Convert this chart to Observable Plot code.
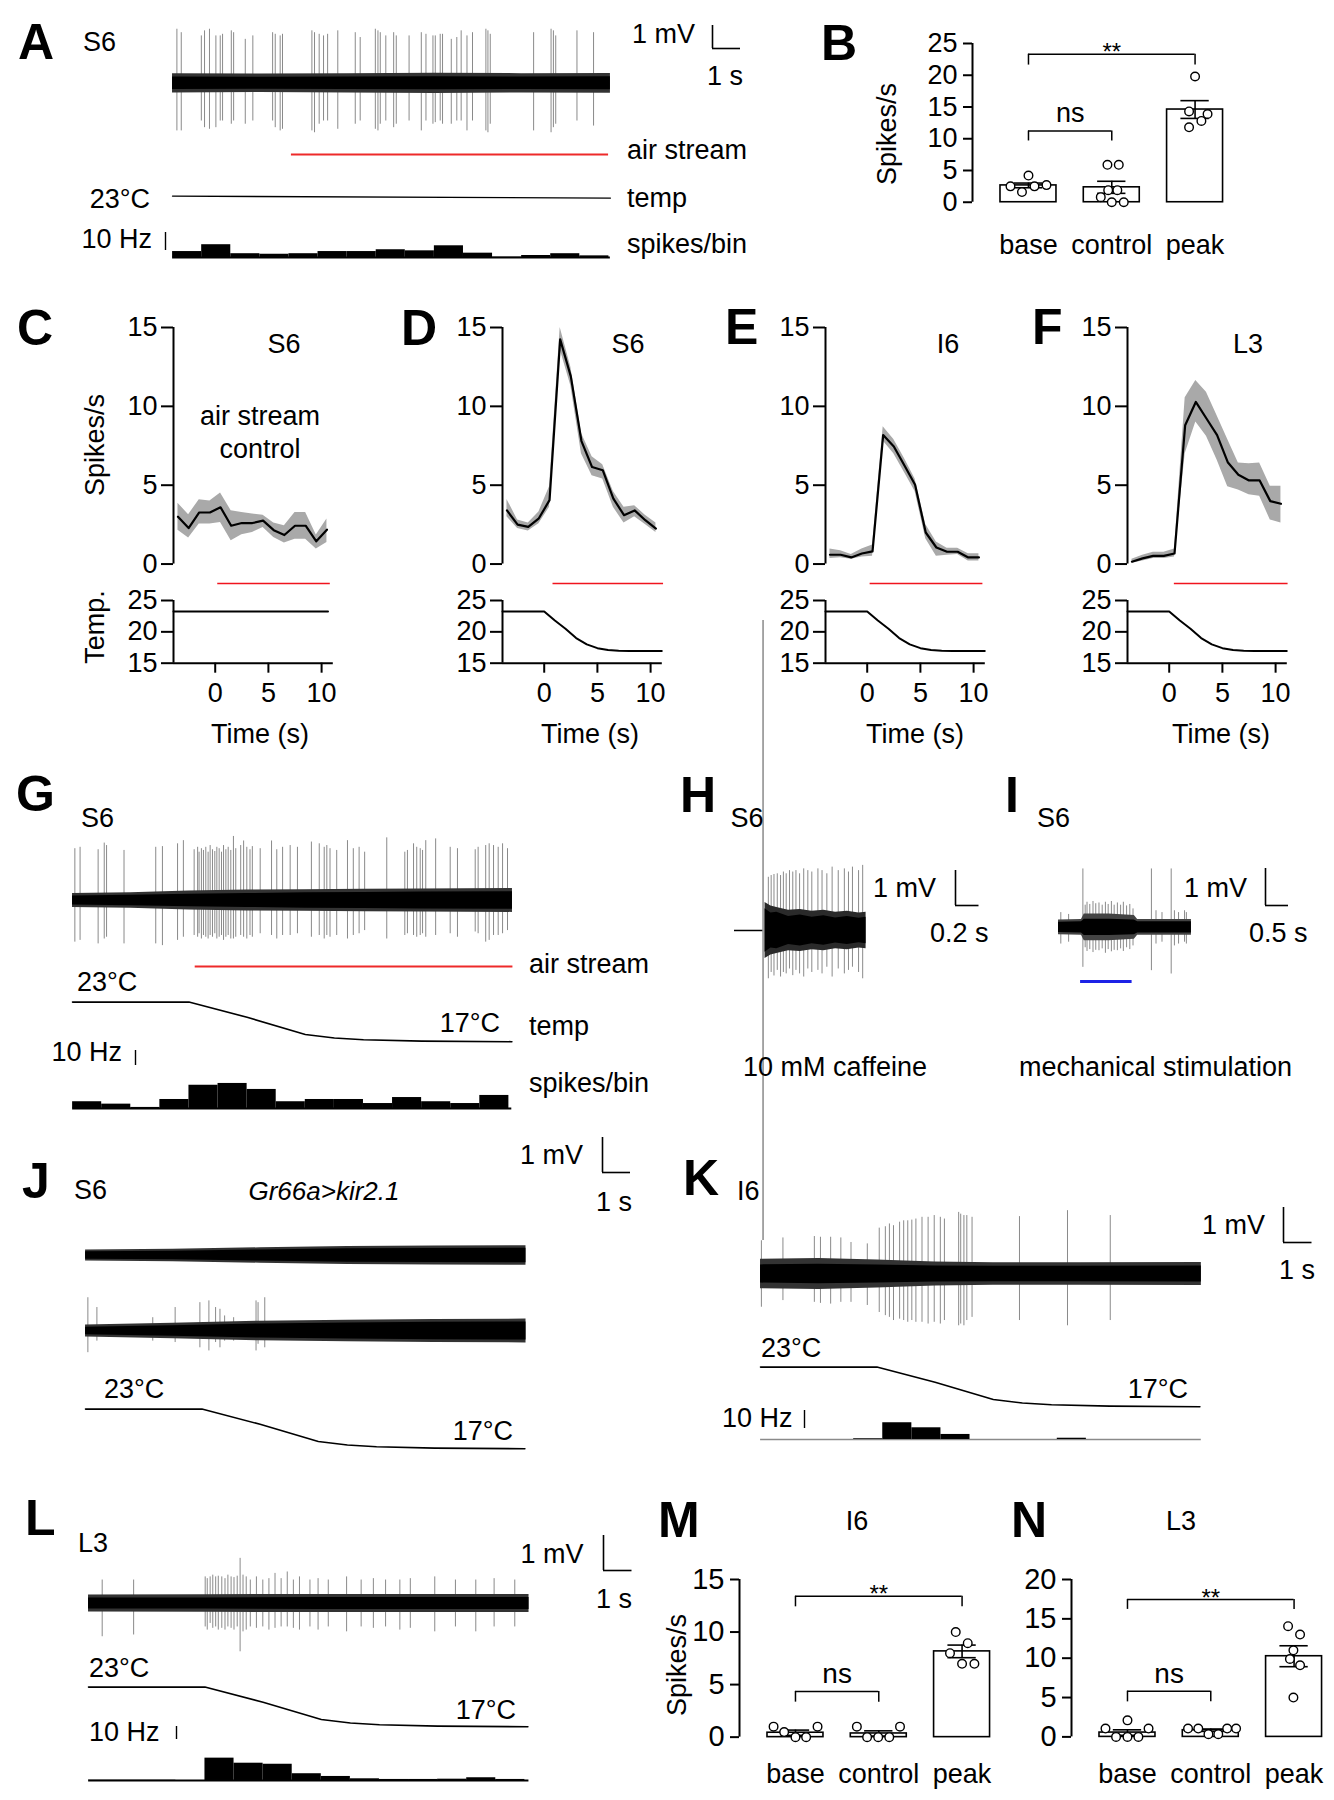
<!DOCTYPE html>
<html><head><meta charset="utf-8">
<script src="https://cdn.jsdelivr.net/npm/d3@7"></script>
<script src="https://cdn.jsdelivr.net/npm/@observablehq/plot@0.6"></script>
<style>
body{margin:0;background:#fff}
#fig{position:relative;width:1334px;height:1800px;overflow:hidden;background:#fff;font-family:"Liberation Sans",Arial,Helvetica,sans-serif;color:#000}
#fig svg{position:absolute}
.t{position:absolute;white-space:nowrap;line-height:1;font-size:27px}
</style></head><body><div id="fig"></div>
<script>
// ---------------- DATA ----------------
// Panel A (S6, air stream on constant temperature) : spikes [time s, top mV, bottom mV]
const A_SPIKES = [[0.15,2.35,-2.07],[0.30,2.2,-2.07],[0.99,2.06,-1.64],[1.10,2.28,-1.93],[1.27,2.35,-2.0],[1.49,2.06,-1.93],[1.64,2.06,-1.64],[1.72,2.13,-1.64],[2.02,2.28,-1.78],[2.10,2.2,-1.64],[2.50,1.91,-1.78],[2.76,2.06,-1.64],[3.44,2.2,-1.64],[3.53,2.13,-1.93],[3.70,2.06,-2.07],[3.78,2.13,-2.0],[4.79,2.28,-2.07],[4.88,2.2,-2.15],[5.04,2.13,-1.78],[5.19,2.06,-1.64],[5.33,2.13,-1.64],[5.68,2.28,-2.0],[6.28,2.2,-1.78],[6.45,1.99,-1.64],[6.97,2.35,-2.0],[7.06,2.28,-2.07],[7.14,2.2,-1.78],[7.33,2.06,-1.64],[7.60,2.2,-1.93],[7.69,2.06,-1.78],[8.13,2.06,-1.64],[8.55,2.2,-2.07],[8.71,2.13,-1.64],[8.95,2.06,-1.78],[9.03,2.06,-1.71],[9.20,2.13,-1.64],[9.28,2.13,-1.78],[9.58,1.91,-1.78],[9.77,1.99,-1.64],[9.92,2.28,-1.64],[10.12,2.06,-2.07],[10.31,2.2,-1.64],[10.77,2.35,-2.07],[10.84,2.28,-2.15],[10.92,2.13,-1.78],[12.41,2.2,-2.07],[13.01,2.35,-2.15],[13.09,2.28,-1.93],[13.17,2.06,-1.78],[13.90,2.28,-1.64],[14.47,2.2,-1.86]];
// noise envelope [time s, core half-width mV, outer half-width mV]
const A_NOISE = [[0,0.27,0.42],[3,0.26,0.4],[6,0.27,0.42],[9,0.28,0.44],[12,0.27,0.42],[15.05,0.28,0.43]];
const A_AIR = [4.08, 15.0];
const A_TEMP = [[0,23],[15.05,22.7]];
const A_HIST = [3.3,7.1,2.1,1.8,2.1,3.3,3.3,4.3,3.7,6.5,2.4,0.2,1.1,2.1,0.9]; // Hz per 1-s bin

// Panel B (S6 spikes/s)
const CATS = ["base","control","peak"];
const B_MEAN = [2.65, 2.35, 14.6];
const B_SEM = [0.37, 0.95, 1.4];
const B_PTS = [[0,-0.216,2.5],[0,0,4.2],[0,-0.078,1.6],[0,0.072,2.5],[0,0.216,2.7],
  [1,-0.052,5.9],[1,0.084,5.9],[1,-0.132,0.8],[1,-0.043,1.9],[1,0.067,1.9],[1,0,0],[1,0.144,0],
  [2,0,19.8],[2,-0.072,14.3],[2,0.15,13.9],[2,0.076,12.8],[2,-0.072,11.8]];
const B_BRK = [{x1:0,x2:2,y:23.3,drop:21.6,label:"**",ly:23.6,fs:24},{x1:0,x2:1,y:11.2,drop:9.65,label:"ns",ly:14.0,fs:27}];

// Panels C-F : mean spikes/s with SEM band, 1-s bins
const T_BINS = [-3.5,-2.5,-1.5,-0.5,0.5,1.5,2.5,3.5,4.5,5.5,6.5,7.5,8.5,9.5,10.5];
const C_MEAN = [3.0,2.28,3.27,3.27,3.6,2.43,2.6,2.6,2.75,2.15,1.84,2.43,2.43,1.44,2.18];
const C_LO   = [2.15,1.65,2.54,2.54,2.64,1.48,1.86,2.0,2.32,1.69,1.33,1.58,1.58,0.95,1.37];
const C_HI   = [3.85,3.13,4.08,4.0,4.5,3.38,3.27,3.17,3.1,2.6,2.43,3.27,3.27,1.84,2.85];
const D_MEAN = [3.4,2.5,2.36,2.9,4.05,14.25,11.9,7.8,6.15,5.95,4.15,3.1,3.4,2.78,2.25];
const D_LO   = [3.0,2.25,2.1,2.55,3.6,13.6,11.3,7.0,5.6,5.4,3.6,2.6,3.0,2.5,2.0];
const D_HI   = [4.1,2.8,2.6,3.3,4.9,15.0,12.5,8.3,6.8,6.3,4.6,3.6,3.7,3.1,2.6];
const E_MEAN = [0.59,0.59,0.42,0.67,0.8,8.18,7.45,6.25,5.03,2.0,1.05,0.78,0.78,0.42,0.42];
const E_LO   = [0.35,0.4,0.3,0.45,0.5,7.8,7.0,5.8,4.6,1.6,0.5,0.55,0.6,0.2,0.2];
const E_HI   = [0.95,0.85,0.6,0.95,1.2,8.7,7.9,6.7,5.4,2.5,1.4,1.0,1.0,0.65,0.65];
const F_MEAN = [0.15,0.36,0.52,0.52,0.67,8.8,10.28,9.23,8.18,6.46,5.66,5.3,5.3,3.99,3.82];
const F_LO   = [0.05,0.2,0.35,0.35,0.45,7.0,9.0,8.1,6.6,4.9,4.7,4.4,4.3,2.8,2.6];
const F_HI   = [0.3,0.55,0.75,0.75,0.95,10.55,11.64,10.9,9.4,7.9,6.4,6.36,6.4,4.93,4.93];
const C_TEMP = [[-3.92,23.25],[10.6,23.25]];
const CF_TEMP = [[-3.92,23.25],[0,23.25],[1,21.8],[2,20.5],[3,19.0],[4,18.0],[5,17.4],[6,17.1],[7,17.0],[8,16.95],[11.05,16.95]];
const CF_AIR = {C:[0.2,10.8], D:[0.79,11.2], E:[0.33,10.95], F:[0.54,11.25]};

// Temperature ramp used in G, J, K, L (deg C)
const RAMP = [[0,23],[4,23],[6,20.7],[8,18.1],[9,17.55],[10,17.3],[12,17.08],[15.1,17]];

// Panel G (S6, cooling air stream)
const G_SPIKES = [[0.08,1.48,-1.19],[0.26,1.52,-1.14],[0.88,1.45,-1.24],[1.09,1.64,-1.1],[1.17,1.57,-1.05],[1.77,1.43,-1.24],[2.86,1.52,-1.24],[3.09,1.54,-1.29],[3.61,1.62,-1.14],[3.81,1.71,-1.05],
 [4.18,1.45,-1.0],[4.30,1.52,-1.05],[4.35,1.38,-0.95],[4.43,1.48,-1.1],[4.50,1.43,-1.0],[4.58,1.52,-1.05],[4.66,1.38,-1.1],[4.73,1.57,-1.0],[4.81,1.45,-1.05],[4.89,1.4,-0.95],[4.96,1.52,-1.1],[5.04,1.48,-1.05],[5.12,1.38,-1.0],[5.19,1.57,-1.14],[5.27,1.45,-1.05],[5.35,1.52,-1.0],[5.44,1.43,-1.1],[5.53,1.83,-1.1],[5.61,1.48,-1.05],[5.78,1.57,-1.0],[5.88,1.70,-1.05],[5.99,1.52,-1.1],[6.10,1.45,-1.0],[6.18,1.54,-1.05],
 [6.45,1.48,-0.95],[6.84,1.70,-1.0],[7.02,1.45,-1.1],[7.22,1.52,-1.0],[7.48,1.57,-1.0],[7.73,1.52,-0.95],[8.21,1.67,-1.05],[8.48,1.62,-1.0],[8.65,1.52,-1.1],[8.74,1.57,-1.0],[8.85,1.48,-1.05],[9.08,1.43,-1.0],[9.45,1.71,-1.1],[9.65,1.48,-1.0],[9.85,1.52,-0.95],[10.04,1.38,-0.86],[10.80,1.79,-1.1],[11.42,1.38,-1.0],[11.51,1.43,-0.95],[11.72,1.62,-1.0],[11.83,1.52,-1.05],[11.95,1.48,-1.0],[12.03,1.43,-0.95],[12.14,1.71,-1.05],[12.48,1.76,-1.0],[12.98,1.52,-0.95],[13.23,1.48,-1.05],[13.84,1.45,-0.9],[13.94,1.52,-0.95],[14.20,1.57,-1.19],[14.32,1.62,-1.14],[14.47,1.57,-1.0],[14.63,1.52,-1.0],[14.78,1.62,-0.95],[14.95,1.48,-0.86]];
const G_NOISE = [[0,0.13,0.2],[2,0.15,0.22],[4,0.18,0.27],[6,0.2,0.3],[8,0.22,0.31],[10,0.23,0.32],[12,0.24,0.33],[15.12,0.25,0.34]];
const G_AIR = [4.21, 15.15];
const G_HIST = [4.5,2.9,0.7,6.0,15.5,16.7,12.7,4.5,6.0,6.0,3.3,7.3,4.5,3.3,8.7];

// Panel H (S6, 10 mM caffeine)
const H_SPIKES = [[0.028,1.52,-1.38],[0.052,1.57,-1.2],[0.076,1.6,-1.3],[0.104,1.62,-1.14],[0.132,1.57,-1.33],[0.156,1.67,-1.2],[0.180,1.62,-1.24],[0.208,1.71,-1.1],[0.236,1.67,-1.29],[0.263,1.71,-1.14],[0.294,1.62,-1.24],[0.329,1.76,-1.33],[0.364,1.71,-1.1],[0.398,1.67,-1.2],[0.450,1.76,-1.14],[0.485,1.71,-1.24],[0.526,1.62,-1.05],[0.571,1.81,-1.33],[0.623,1.71,-1.1],[0.675,1.76,-1.24],[0.710,1.67,-1.14],[0.744,1.81,-1.05],[0.796,1.71,-1.2],[0.831,1.86,-1.38]];
const H_ARTIFACT = [[-0.017,8.86,-8.86]];
const H_LEAD = [-0.26,-0.017];
const H_NOISE = [[0,0.62,0.8],[0.05,0.5,0.7],[0.1,0.52,0.66],[0.2,0.4,0.58],[0.3,0.44,0.6],[0.4,0.38,0.55],[0.5,0.42,0.58],[0.6,0.36,0.52],[0.7,0.4,0.55],[0.8,0.35,0.5],[0.86,0.38,0.52]];

// Panel I (S6, mechanical stimulation)
const I_SPIKES = [[0.53,1.58,-1.08],[2.02,1.58,-1.17],[2.45,1.58,-1.26],
 [0.05,0.4,-0.45],[0.22,0.35,-0.4],[2.12,0.45,-0.45],[2.25,0.4,-0.4],[2.52,0.45,-0.5],[2.61,0.4,-0.45],[2.74,0.45,-0.4],[2.78,0.4,-0.45],
 [0.58,0.6,-0.55],[0.62,0.68,-0.65],[0.68,0.62,-0.6],[0.75,0.7,-0.68],[0.81,0.64,-0.62],[0.88,0.66,-0.63],[0.95,0.6,-0.58],[1.02,0.68,-0.7],[1.08,0.62,-0.6],[1.15,0.7,-0.66],[1.21,0.6,-0.62],[1.28,0.66,-0.63],[1.35,0.6,-0.58],[1.41,0.68,-0.65],[1.48,0.58,-0.55],[1.55,0.62,-0.6],[1.62,0.5,-0.5]];
const I_NOISE = [[0,0.14,0.2],[0.5,0.15,0.21],[0.56,0.22,0.36],[1.1,0.22,0.36],[1.65,0.2,0.32],[1.72,0.15,0.21],[2.89,0.15,0.21]];
const I_STIM = [0.48, 1.6];

// Panel J (S6, Gr66a>kir2.1)
const J1_NOISE = [[0,0.11,0.16],[3,0.12,0.18],[6,0.16,0.22],[9,0.19,0.26],[12,0.2,0.27],[15.14,0.21,0.28]];
const J2_SPIKES = [[0.08,0.95,-0.62],[0.39,0.67,-0.29],[2.31,0.38,-0.29],[3.08,0.67,-0.33],[3.93,0.81,-0.48],[4.24,0.86,-0.57],[4.47,0.67,-0.33],[4.62,0.62,-0.48],[4.78,0.43,-0.29],[5.09,0.38,-0.29],[5.86,0.86,-0.57],[5.93,0.81,-0.38],[6.16,0.95,-0.48]];
const J2_NOISE = [[0,0.11,0.17],[3,0.15,0.22],[6,0.2,0.28],[9,0.23,0.31],[12,0.25,0.33],[15.14,0.26,0.34]];

// Panel K (I6)
const K_SPIKES = [[0.03,0.95,-0.95],[0.77,1.03,-0.76],[1.85,1.07,-0.81],[2.06,1.05,-0.84],[2.41,1.05,-0.86],[2.76,1.03,-0.81],[3.11,0.9,-0.81],[3.67,0.86,-0.9],[4.08,1.31,-1.1],[4.29,1.35,-1.19],[4.43,1.43,-1.24],[4.57,1.38,-1.33],[4.78,1.48,-1.29],[4.92,1.52,-1.33],[5.06,1.52,-1.38],[5.20,1.54,-1.33],[5.34,1.57,-1.38],[5.55,1.62,-1.38],[5.76,1.62,-1.43],[5.97,1.67,-1.38],[6.18,1.62,-1.43],[6.32,1.57,-1.33],[6.81,1.76,-1.48],[6.88,1.71,-1.43],[6.99,1.67,-1.48],[7.09,1.67,-1.33],[7.27,1.62,-1.24],[8.90,1.64,-1.33],[10.55,1.81,-1.48],[12.02,1.67,-1.33]];
const K_NOISE = [[0,0.26,0.42],[2,0.28,0.44],[4,0.26,0.4],[6,0.23,0.34],[8,0.22,0.32],[11,0.22,0.32],[15.15,0.23,0.33]];
const K_HIST_START = 3.2;
const K_HIST = [0.4,9.3,6.5,2.8,0,0,0,0.7];

// Panel L (L3)
const L_SPIKES = [[0.47,0.67,-0.95],[1.55,0.67,-0.9],[4.01,0.76,-0.67],[4.08,0.71,-0.76],[4.18,0.76,-0.57],[4.27,0.81,-0.71],[4.37,0.76,-0.67],[4.46,0.78,-0.76],[4.58,0.76,-0.71],[4.69,0.71,-0.76],[4.79,0.81,-0.67],[4.90,0.76,-0.71],[5.0,0.74,-0.76],[5.11,0.78,-0.67],[5.21,1.29,-1.38],[5.31,0.81,-0.81],[5.42,0.76,-0.76],[5.56,0.67,-0.67],[5.77,0.76,-0.71],[5.99,0.67,-0.67],[6.20,0.71,-0.76],[6.41,0.86,-0.71],[6.62,0.71,-0.67],[6.83,0.9,-0.67],[7.04,0.67,-0.71],[7.25,0.76,-0.76],[7.61,0.67,-0.67],[7.89,0.71,-0.76],[8.24,0.67,-0.67],[8.87,0.76,-0.81],[9.37,0.67,-0.67],[9.79,0.71,-0.71],[10.21,0.67,-0.67],[10.70,0.67,-0.76],[11.06,0.71,-0.71],[11.90,0.76,-0.81],[12.61,0.67,-0.67],[13.31,0.67,-0.81],[13.94,0.71,-0.67],[14.65,0.67,-0.67]];
const L_NOISE = [[0,0.16,0.24],[4,0.16,0.25],[8,0.17,0.26],[12,0.17,0.26],[15.14,0.17,0.26]];
const L_HIST = [0.2,0.2,0.2,0,17.2,13.3,12.5,5.2,3.1,1.3,0.8,0.8,1.0,2.1,0.8];

// Panels M (I6) and N (L3)
const M_MEAN = [0.42, 0.35, 8.16];
const M_SEM = [0.25, 0.25, 0.6];
const M_PTS = [[0,-0.263,1.0],[0,-0.136,0.48],[0,0,0],[0,0.128,0],[0,0.265,1.0],
  [1,-0.263,1.0],[1,-0.14,0],[1,-0.007,0],[1,0.126,0],[1,0.255,1.0],
  [2,-0.076,10.0],[2,0.068,8.94],[2,-0.145,7.99],[2,0,6.98],[2,0.148,6.98]];
const M_BRK = [{x1:0,x2:2,y:13.4,drop:12.4,label:"**",ly:13.55,fs:24},{x1:0,x2:1,y:4.35,drop:3.33,label:"ns",ly:6.0,fs:28}];
const N_MEAN = [0.55, 0.85, 10.25];
const N_SEM = [0.35, 0.15, 1.33];
const N_PTS = [[0,-0.264,1.06],[0,0,2.1],[0,0.253,1.06],[0,-0.137,0],[0,0,0],[0,0.131,0],
  [1,-0.273,1.06],[1,-0.15,1.06],[1,-0.028,0.34],[1,0.09,0.34],[1,0.197,1.06],[1,0.304,1.06],
  [2,-0.072,14.07],[2,0.072,13.0],[2,-0.008,11.0],[2,-0.05,9.9],[2,0.072,9.1],[2,-0.008,5.0]];
const N_BRK = [{x1:0,x2:2,y:17.46,drop:16.2,label:"**",ly:17.66,fs:24},{x1:0,x2:1,y:5.8,drop:4.45,label:"ns",ly:8.05,fs:28}];

// ---------------- LAYOUT HELPERS ----------------
const FONT = "'Liberation Sans', Arial, Helvetica, sans-serif";
const ST = (fs) => `background:transparent;overflow:visible;font-family:${FONT};font-size:${fs}px;`;
const fig = document.getElementById("fig");
const RED = "#ee2a2a", BLUE = "#1c22e6";

function place(svg, left, top) {
  svg.style.position = "absolute";
  svg.style.left = left + "px";
  svg.style.top = top + "px";
  fig.appendChild(svg);
  return svg;
}
function txt(str, x, y, o = {}) {
  const d = document.createElement("div");
  d.className = "t";
  d.textContent = str;
  d.style.fontSize = (o.size || 27) + "px";
  if (o.bold) d.style.fontWeight = "bold";
  if (o.italic) d.style.fontStyle = "italic";
  d.style.left = x + "px";
  d.style.top = y + "px";
  const ax = o.anchor === "middle" ? -50 : o.anchor === "end" ? -100 : 0;
  d.style.transform = o.rotate ? `translate(-50%,-50%) rotate(${o.rotate}deg)` : `translate(${ax}%,-50%)`;
  fig.appendChild(d);
}
const letter = (s, x, y) => txt(s, x, y, {size: 50, bold: true});

// generic positioned plot: x = page x of time 0, y = page y of value vy (default 0)
function lay(marks, o) {
  const vy = o.vy ?? 0;
  const W = (o.t1 - o.t0) * o.pps, H = (o.v1 - o.v0) * o.ppv;
  const svg = Plot.plot({width: W, height: H, margin: 0, style: ST(27),
    x: {domain: [o.t0, o.t1], axis: null}, y: {domain: [o.v0, o.v1], axis: null}, marks});
  return place(svg, o.x + o.t0 * o.pps, o.y - (o.v1 - vy) * o.ppv);
}
function trace(o, spikes, noise, extra = [], fuzz = "#333") {
  return lay([
    Plot.ruleX(spikes, {x: d => d[0], y1: d => d[2], y2: d => d[1], stroke: "#8a8a8a", strokeWidth: 1}),
    Plot.areaY(noise, {x: d => d[0], y1: d => -d[2], y2: d => d[2], fill: fuzz}),
    Plot.areaY(noise, {x: d => d[0], y1: d => -d[1], y2: d => d[1], fill: "#000"}),
    ...extra], o);
}
function stim(x, y, pps, t1, seg, color, w) {
  return lay([Plot.ruleY([seg], {x1: d => d[0], x2: d => d[1], y: 0, stroke: color, strokeWidth: w})],
    {x, y, pps, t0: 0, t1, v0: -1, v1: 1, ppv: 4});
}
function tempRow(x, y23, pps, t0, t1, data, w = 1.6) {
  return lay([Plot.line(data, {x: d => d[0], y: d => d[1], stroke: "#000", strokeWidth: w})],
    {x, y: y23, vy: 23, pps, t0, t1, v0: 16, v1: 24, ppv: 6.6});
}
function hist(x, yBase, pps, t1, pph, bins, baseColor, baseW) {
  return lay([
    Plot.ruleY([0], {x1: 0, x2: t1, stroke: baseColor, strokeWidth: baseW}),
    Plot.rect(bins, {x1: d => d[0], x2: d => d[1], y1: 0, y2: d => d[2], fill: "#000"})
  ], {x, y: yBase, pps, t0: 0, t1, v0: 0, v1: 20, ppv: pph});
}
function scalebar(x, yb, pps, sec, ppv, mv) {
  return lay([Plot.ruleX([0], {y1: 0, y2: mv, stroke: "#000", strokeWidth: 1.6}),
              Plot.ruleY([0], {x1: 0, x2: sec, stroke: "#000", strokeWidth: 1.6})],
    {x, y: yb, pps, t0: 0, t1: sec, ppv, v0: 0, v1: mv});
}
function hzbar(x, yb, pph) {
  return lay([Plot.ruleX([0], {y1: 0, y2: 10, stroke: "#000", strokeWidth: 1.4})],
    {x, y: yb, pps: 2, t0: 0, t1: 1, ppv: pph, v0: 0, v1: 10});
}

// rate panels C-F
const TD = [-3.92, 11.1], PPS_CF = 10.64, RATE_PPU = 15.77, TEMP_PPU = 6.27;
const RATE_TOP = 326.7, TEMP_TOP = 600;
function ratePanel(ax, mean, lo, hi, temp, air) {
  const rows = T_BINS.map((t, i) => ({t, m: mean[i], lo: lo[i], hi: hi[i]}));
  const ml = 80, mr = 12, W = (TD[1] - TD[0]) * PPS_CF;
  const up = Plot.plot({width: ml + W + mr, height: 20 + 15 * RATE_PPU + 10,
    marginLeft: ml, marginRight: mr, marginTop: 20, marginBottom: 10, style: ST(27),
    x: {domain: TD, axis: null}, y: {domain: [0, 15]},
    marks: [
      Plot.axisY([0, 5, 10, 15], {tickSize: 12, tickPadding: 4, strokeWidth: 2, label: null}),
      Plot.ruleX([TD[0]], {y1: 0, y2: 15, stroke: "#000", strokeWidth: 2}),
      Plot.areaY(rows, {x: "t", y1: "lo", y2: "hi", fill: "#a9a9a9"}),
      Plot.lineY(rows, {x: "t", y: "m", stroke: "#000", strokeWidth: 2.2})
    ]});
  place(up, ax - ml, RATE_TOP - 20);
  const low = Plot.plot({width: ml + W + mr, height: 10 + 10 * TEMP_PPU + 60,
    marginLeft: ml, marginRight: mr, marginTop: 10, marginBottom: 60, style: ST(27),
    x: {domain: TD}, y: {domain: [15, 25]},
    marks: [
      Plot.axisY([15, 20, 25], {tickSize: 12, tickPadding: 4, strokeWidth: 2, label: null}),
      Plot.axisX([0, 5, 10], {tickSize: 10, tickPadding: 10, strokeWidth: 2, label: null}),
      Plot.ruleX([TD[0]], {y1: 15, y2: 25, stroke: "#000", strokeWidth: 2}),
      Plot.ruleY([15], {x1: TD[0], x2: TD[1], stroke: "#000", strokeWidth: 2}),
      Plot.line(temp, {x: d => d[0], y: d => d[1], stroke: "#000", strokeWidth: 2})
    ]});
  place(low, ax - ml, TEMP_TOP - 10);
  const x0 = ax - TD[0] * PPS_CF;
  stim(x0, 583.3, PPS_CF, 11.5, air, "#f0141e", 1.6);
}

// bar panels B, M, N
const XD = [-0.672, 2.65], STEP = 83.3;
function barPanel(ax, y0, ppu, ymax, ticks, mean, sem, pts, brk, pad, tfs) {
  const ml = 80, mr = 10, mt = 40, mb = 70;
  const W = (XD[1] - XD[0]) * STEP, H = ymax * ppu;
  const bars = mean.map((m, i) => ({i, m, s: sem[i]}));
  const svg = Plot.plot({width: ml + W + mr, height: mt + H + mb,
    marginLeft: ml, marginRight: mr, marginTop: mt, marginBottom: mb, style: ST(27),
    x: {domain: XD}, y: {domain: [0, ymax]},
    marks: [
      Plot.axisY(ticks, {tickSize: 9, tickPadding: 6, strokeWidth: 2, label: null, fontSize: tfs}),
      Plot.axisX([0, 1, 2], {tickFormat: i => CATS[i], tickSize: 0, tickPadding: pad, label: null, fontSize: 27}),
      Plot.ruleX([XD[0]], {y1: 0, y2: ymax, stroke: "#000", strokeWidth: 2}),
      Plot.rect(bars, {x1: d => d.i - 0.336, x2: d => d.i + 0.336, y1: 0, y2: "m", fill: "#fff", stroke: "#000", strokeWidth: 1.6}),
      Plot.ruleX(bars, {x: "i", y1: d => d.m - d.s, y2: d => d.m + d.s, stroke: "#000", strokeWidth: 1.6}),
      Plot.ruleY(bars, {y: d => d.m + d.s, x1: d => d.i - 0.17, x2: d => d.i + 0.17, stroke: "#000", strokeWidth: 1.6}),
      Plot.ruleY(bars, {y: d => d.m - d.s, x1: d => d.i - 0.17, x2: d => d.i + 0.17, stroke: "#000", strokeWidth: 1.6}),
      Plot.dot(pts, {x: d => d[0] + d[1], y: d => d[2], r: 4.3, fill: "#fff", stroke: "#000", strokeWidth: 1.4}),
      Plot.ruleY(brk, {y: "y", x1: "x1", x2: "x2", stroke: "#000", strokeWidth: 1.5}),
      Plot.ruleX(brk, {x: "x1", y1: "drop", y2: "y", stroke: "#000", strokeWidth: 1.5}),
      Plot.ruleX(brk, {x: "x2", y1: "drop", y2: "y", stroke: "#000", strokeWidth: 1.5}),
      Plot.text(brk, {x: d => (d.x1 + d.x2) / 2, y: "ly", text: "label", fontSize: d => d.fs, fill: "#000"})
    ]});
  place(svg, ax - ml, y0 - H - mt);
}

// ---------------- DRAW ----------------
const PPS = 29.1;

// Panel A
letter("A", 18, 42);
txt("S6", 83, 42);
trace({x: 172.3, y: 82.3, pps: PPS, t0: 0, t1: 15.05, ppv: 23, v0: -2.4, v1: 2.6}, A_SPIKES, A_NOISE);
scalebar(712, 48, 28, 1, 23, 1);
txt("1 mV", 632, 33.5); txt("1 s", 707, 76);
stim(172.3, 154.3, PPS, 15.2, A_AIR, RED, 2);
txt("air stream", 627, 150);
tempRow(172.3, 196, PPS, 0, 15.05, A_TEMP, 1.4);
txt("23°C", 150, 199, {anchor: "end"}); txt("temp", 627, 198);
hist(172.3, 256.5, PPS, 15.05, 1.8, A_HIST.map((v, k) => [k, k + 1, v]), "#000", 2);
hzbar(165, 250, 1.8);
txt("10 Hz", 152, 239, {anchor: "end"}); txt("spikes/bin", 627, 244);

// Panel B
letter("B", 821, 42.5);
barPanel(972, 202, 6.35, 25, [0, 5, 10, 15, 20, 25], B_MEAN, B_SEM, B_PTS, B_BRK, 33, 27);
txt("Spikes/s", 887, 134, {rotate: -90});

// Panels C-F
letter("C", 17, 327.5); letter("D", 401, 328); letter("E", 725, 327); letter("F", 1032, 327);
ratePanel(173, C_MEAN, C_LO, C_HI, C_TEMP, CF_AIR.C);
ratePanel(502, D_MEAN, D_LO, D_HI, CF_TEMP, CF_AIR.D);
ratePanel(824.5, E_MEAN, E_LO, E_HI, CF_TEMP, CF_AIR.E);
ratePanel(1126.7, F_MEAN, F_LO, F_HI, CF_TEMP, CF_AIR.F);
txt("S6", 284, 343.5, {anchor: "middle"}); txt("S6", 628, 343.5, {anchor: "middle"});
txt("I6", 948, 343.5, {anchor: "middle"}); txt("L3", 1248, 343.5, {anchor: "middle"});
txt("air stream", 260, 416, {anchor: "middle"}); txt("control", 260, 449, {anchor: "middle"});
txt("Spikes/s", 94.5, 445, {rotate: -90}); txt("Temp.", 94.5, 627, {rotate: -90});
txt("Time (s)", 260, 734, {anchor: "middle"}); txt("Time (s)", 590, 734, {anchor: "middle"});
txt("Time (s)", 915, 734, {anchor: "middle"}); txt("Time (s)", 1221, 734, {anchor: "middle"});

// Panel G
letter("G", 16, 794);
txt("S6", 81, 817.5);
trace({x: 71.7, y: 900, pps: PPS, t0: 0, t1: 15.12, ppv: 35, v0: -1.4, v1: 2.0}, G_SPIKES, G_NOISE);
stim(71.7, 965.7, PPS, 15.3, G_AIR, RED, 2);
txt("air stream", 529, 964);
tempRow(71.7, 1001.7, PPS, 0, 15.1, RAMP);
txt("23°C", 77, 982); txt("17°C", 500, 1023, {anchor: "end"}); txt("temp", 529, 1026);
hist(71.7, 1108.3, PPS, 15.1, 1.5, G_HIST.map((v, k) => [k, k + 1, v]), "#000", 2);
hzbar(135, 1065, 1.5);
txt("10 Hz", 122, 1052, {anchor: "end"}); txt("spikes/bin", 529, 1083);

// Panel H
letter("H", 680, 795);
trace({x: 765, y: 930, pps: 117.5, t0: -0.26, t1: 0.86, ppv: 35, v0: -9, v1: 9}, H_SPIKES, H_NOISE, [
  Plot.ruleY([H_LEAD], {x1: d => d[0], x2: d => d[1], y: 0, stroke: "#000", strokeWidth: 1.5}),
  Plot.ruleX(H_ARTIFACT, {x: d => d[0], y1: d => d[2], y2: d => d[1], stroke: "#777", strokeWidth: 1.3})
], "#2a2a2a");
txt("S6", 730.5, 817.5);
scalebar(955, 905, 117.5, 0.2, 35, 1);
txt("1 mV", 873, 887.5); txt("0.2 s", 930, 933);
txt("10 mM caffeine", 743, 1067);

// Panel I
letter("I", 1005, 795);
txt("S6", 1037, 817.5);
trace({x: 1057.7, y: 926.7, pps: 46, t0: 0, t1: 2.89, ppv: 37, v0: -1.4, v1: 1.7}, I_SPIKES, I_NOISE, [], "#444");
stim(1057.7, 981, 46, 3, I_STIM, BLUE, 3);
scalebar(1265, 905, 46, 0.5, 37, 1);
txt("1 mV", 1184, 887.5); txt("0.5 s", 1249, 933);
txt("mechanical stimulation", 1019, 1067);

// Panel J
letter("J", 22, 1181);
txt("S6", 74, 1190);
txt("Gr66a>kir2.1", 324, 1191, {anchor: "middle", italic: true, size: 26});
scalebar(602, 1172, 28, 1, 35, 1);
txt("1 mV", 520, 1155); txt("1 s", 596, 1202);
trace({x: 85.2, y: 1255, pps: PPS, t0: 0, t1: 15.14, ppv: 35, v0: -0.6, v1: 0.6}, [], J1_NOISE);
trace({x: 85.2, y: 1330, pps: PPS, t0: 0, t1: 15.14, ppv: 35, v0: -0.8, v1: 1.1}, J2_SPIKES, J2_NOISE);
tempRow(85.2, 1408.3, PPS, 0, 15.1, RAMP);
txt("23°C", 104, 1389); txt("17°C", 513, 1431, {anchor: "end"});

// Panel K
letter("K", 683, 1178);
txt("I6", 737, 1191);
trace({x: 760, y: 1273, pps: PPS, t0: 0, t1: 15.15, ppv: 35, v0: -1.6, v1: 1.9}, K_SPIKES, K_NOISE);
scalebar(1282.5, 1242, 28.5, 1, 35, 1);
txt("1 mV", 1202, 1225); txt("1 s", 1279, 1270);
tempRow(760, 1366.7, PPS, 0, 15.1, RAMP);
txt("23°C", 761, 1348); txt("17°C", 1188, 1389, {anchor: "end"});
hist(760, 1439, PPS, 15.15, 1.8, K_HIST.map((v, k) => [K_HIST_START + k, K_HIST_START + k + 1, v]), "#8a8a8a", 1.6);
hzbar(803.6, 1428, 1.8);
txt("10 Hz", 722, 1418);

// Panel L
letter("L", 25, 1518);
txt("L3", 78, 1543);
trace({x: 88.1, y: 1603.3, pps: PPS, t0: 0, t1: 15.14, ppv: 35, v0: -1.5, v1: 1.4}, L_SPIKES, L_NOISE);
scalebar(602.5, 1570, 28.5, 1, 35, 1);
txt("1 mV", 520.5, 1554); txt("1 s", 596, 1599);
tempRow(88.1, 1686.7, PPS, 0, 15.1, RAMP);
txt("23°C", 89, 1668); txt("17°C", 516, 1710, {anchor: "end"});
hist(88.1, 1780, PPS, 15.14, 1.3, L_HIST.map((v, k) => [k, k + 1, v]), "#000", 2);
hzbar(176, 1739.3, 1.3);
txt("10 Hz", 89, 1732);

// Panels M, N
letter("M", 658, 1520); letter("N", 1011, 1520);
txt("I6", 857, 1521, {anchor: "middle"}); txt("L3", 1181, 1521, {anchor: "middle"});
barPanel(738.7, 1736.7, 10.51, 15, [0, 5, 10, 15], M_MEAN, M_SEM, M_PTS, M_BRK, 27, 29);
barPanel(1071, 1736.7, 7.87, 20, [0, 5, 10, 15, 20], N_MEAN, N_SEM, N_PTS, N_BRK, 27, 29);
txt("Spikes/s", 677, 1665, {rotate: -90});
</script></body></html>
